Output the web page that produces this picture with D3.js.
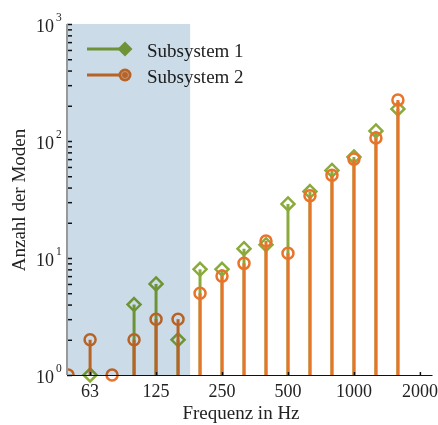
<html>
<head>
<script src="https://d3js.org/d3.v7.min.js"></script>
<style>
  body { margin: 0; background: #fff; }
  svg text { font-family: "Liberation Serif", "Times New Roman", serif; fill: #222; }
</style>
</head>
<body>
<svg width="438" height="425"></svg>
<script>
// third-octave bands (Hz)
var bands = ["50", "63", "80", "100", "125", "160", "200", "250", "315", "400", "500", "630", "800", "1000", "1250", "1600", "2000"];
var xTickLabels = ["63", "125", "250", "500", "1000", "2000"];
var yTicks = [1, 10, 100, 1000];
var sub1 = [null, 1, null, 4, 6, 2, 8, 8, 12, 13, 29, 37, 56, 73, 122, 188];
var sub2 = [1, 2, 1, 2, 3, 3, 5, 7, 9, 14, 11, 34, 51, 70, 106, 224];
var shadeEnd = 5.55; // shaded range ends between 160 and 200 Hz
var seriesNames = ["Subsystem 1", "Subsystem 2"];

function draw() {
  var green = "#8aab3c", orange = "#e8732a";
  var mLeft = 67, mRight = 432, mTop = 24, mBottom = 375;

  var svg = d3.select("svg");
  var xs = d3.scaleLinear().domain([-0.05, 16.55]).range([mLeft, mRight]);
  var ys = d3.scaleLog().domain([1, 1000]).range([mBottom, mTop]);

  var defs = svg.append("defs");
  defs.append("clipPath").attr("id", "clip")
    .append("rect").attr("x", mLeft).attr("y", 0).attr("width", mRight - mLeft + 6).attr("height", 392);
  defs.append("clipPath").attr("id", "clipInner")
    .append("rect").attr("x", mLeft).attr("y", mTop).attr("width", mRight - mLeft).attr("height", mBottom - mTop);

  var plot = svg.append("g").attr("clip-path", "url(#clip)");

  function pts(vals) {
    return vals.map(function(v, i) { return {i: i, v: v}; }).filter(function(d) { return d.v != null; });
  }

  // green stems + diamonds
  plot.append("g").selectAll("line").data(pts(sub1)).enter().append("line")
    .attr("x1", function(d) { return xs(d.i); }).attr("x2", function(d) { return xs(d.i); })
    .attr("y1", ys(1)).attr("y2", function(d) { return ys(d.v); })
    .attr("stroke", green).attr("stroke-width", 3);
  plot.append("g").selectAll("path").data(pts(sub1)).enter().append("path")
    .attr("transform", function(d) { return "translate(" + xs(d.i) + "," + ys(d.v) + ")"; })
    .attr("d", "M0,-6.5L6.5,0L0,6.5L-6.5,0Z")
    .attr("fill", "none").attr("stroke", green).attr("stroke-width", 2.5);

  // orange stems + circles
  plot.append("g").selectAll("line").data(pts(sub2)).enter().append("line")
    .attr("x1", function(d) { return xs(d.i); }).attr("x2", function(d) { return xs(d.i); })
    .attr("y1", ys(1)).attr("y2", function(d) { return ys(d.v); })
    .attr("stroke", orange).attr("stroke-width", 3);
  plot.append("g").selectAll("circle").data(pts(sub2)).enter().append("circle")
    .attr("cx", function(d) { return xs(d.i); }).attr("cy", function(d) { return ys(d.v); })
    .attr("r", 5.5)
    .attr("clip-path", function(d) { return d.i == 0 ? "url(#clipInner)" : null; })
    .attr("fill", "none").attr("stroke", orange).attr("stroke-width", 2.5);

  // legend
  var leg = svg.append("g");
  [green, orange].forEach(function(c, k) {
    var yy = 49 + k * 26;
    leg.append("line").attr("x1", 87).attr("x2", 125).attr("y1", yy).attr("y2", yy)
      .attr("stroke", c).attr("stroke-width", 3);
    if (k == 0) {
      leg.append("path").attr("transform", "translate(125," + yy + ")")
        .attr("d", "M0,-7.5L7.5,0L0,7.5L-7.5,0Z").attr("fill", c);
    } else {
      leg.append("circle").attr("cx", 125).attr("cy", yy).attr("r", 6.5).attr("fill", c);
      leg.append("circle").attr("cx", 125).attr("cy", yy).attr("r", 3.5)
        .attr("fill", "none").attr("stroke", "#f4b48a").attr("stroke-width", 1);
    }
    leg.append("text").attr("x", 147).attr("y", yy + 8).attr("font-size", 19).text(seriesNames[k]);
  });

  // shaded band (multiplied over the marks)
  svg.append("rect")
    .attr("x", mLeft).attr("y", mTop)
    .attr("width", xs(shadeEnd) - mLeft).attr("height", mBottom - mTop)
    .attr("fill", "#cbdbe7")
    .style("mix-blend-mode", "multiply");

  // y axis
  var minor = [];
  for (var e = 0; e < 3; e++) for (var m = 1; m <= 9; m++) minor.push(m * Math.pow(10, e));
  minor.push(1000);
  svg.append("g").attr("transform", "translate(" + mLeft + ",0)")
    .call(d3.axisRight(ys).tickValues(minor).tickSize(5).tickFormat(""))
    .call(function(g) {
      g.select(".domain").remove();
      g.selectAll(".tick line").attr("stroke", "#111").attr("stroke-width", 1.5);
    });
  svg.append("line").attr("x1", mLeft).attr("x2", mLeft).attr("y1", mTop).attr("y2", mBottom)
    .attr("stroke", "#999").attr("stroke-width", 2);

  yTicks.forEach(function(v) {
    svg.append("text").attr("x", 54).attr("y", ys(v) + 8)
      .attr("text-anchor", "end").attr("font-size", 18).text("10");
    svg.append("text").attr("x", 56).attr("y", ys(v) - 3)
      .attr("font-size", 11.5).text(Math.round(Math.log10(v)));
  });

  // x axis
  svg.append("g").attr("transform", "translate(0," + mBottom + ")")
    .call(d3.axisTop(xs).tickValues(xTickLabels.map(function(l) { return bands.indexOf(l); }))
      .tickSize(3).tickSizeOuter(0).tickFormat(""))
    .call(function(g) {
      g.select(".domain").attr("stroke", "#111");
      g.selectAll(".tick line").attr("stroke", "#111").attr("stroke-width", 1.5);
    });
  xTickLabels.forEach(function(l) {
    svg.append("text").attr("x", xs(bands.indexOf(l))).attr("y", 397)
      .attr("text-anchor", "middle").attr("font-size", 18).text(l);
  });

  // titles
  svg.append("text").attr("x", 241).attr("y", 419).attr("text-anchor", "middle")
    .attr("font-size", 19).text("Frequenz in Hz");
  svg.append("text").attr("transform", "translate(25,200) rotate(-90)")
    .attr("text-anchor", "middle").attr("font-size", 19).text("Anzahl der Moden");
}
draw();
</script>
</body>
</html>
